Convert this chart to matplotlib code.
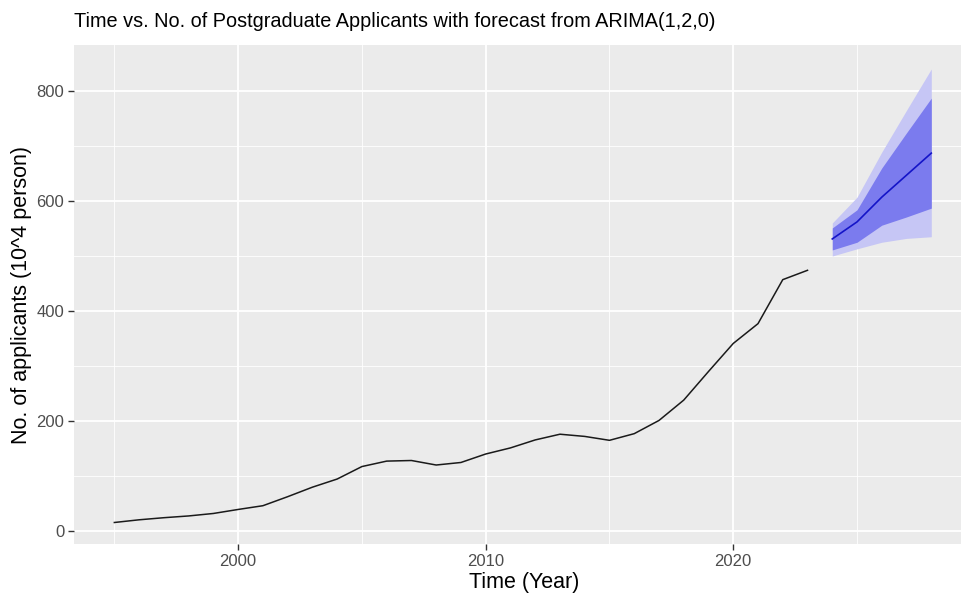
import numpy as np
import matplotlib.pyplot as plt

plt.rcParams['font.family'] = ['Liberation Sans', 'DejaVu Sans']

# observed series (10^4 person)
years = np.arange(1995, 2024)
applicants = [15.5, 20.4, 24.2, 27.4, 31.9, 39.2, 46.0, 62.4, 79.7, 94.5,
              117.2, 127.1, 128.2, 120.0, 124.6, 140.0, 151.1, 165.6, 176.0, 172.0,
              164.9, 177.0, 201.0, 238.0, 290.0, 341.0, 377.0, 457.0, 474.0]

# ARIMA(1,2,0) forecast
fc_years = np.arange(2024, 2029)
fc_mean = [531, 562, 607, 647, 687]
lo80 = [511, 525, 556, 571, 587]
hi80 = [551, 584, 660, 724, 787]
lo95 = [500, 513, 525, 532, 535]
hi95 = [560, 607, 689, 765, 840]

fig = plt.figure(figsize=(9.61, 5.98), dpi=100)
ax = fig.add_axes([74/961, 54/598, 1 - 74/961, 499/598])
ax.set_facecolor('#EBEBEB')

ax.fill_between(fc_years, lo95, hi95, color='#C6C6F5', lw=0, zorder=2)
ax.fill_between(fc_years, lo80, hi80, color='#7B7BEE', lw=0, zorder=3)
ax.plot(fc_years, fc_mean, color='#1414C8', lw=1.2, zorder=4)
ax.plot(years, applicants, color='#1A1A1A', lw=1.1, zorder=4)

ax.set_xlim(1993.37, 2029.2)
ax.set_ylim(-23.6, 883.6)
ax.set_xticks([2000, 2010, 2020])
ax.set_yticks([0, 200, 400, 600, 800])
ax.set_xticks([1995, 2005, 2015, 2025], minor=True)
ax.set_yticks([100, 300, 500, 700], minor=True)
ax.grid(which='major', color='white', lw=1.3, zorder=0)
ax.grid(which='minor', color='white', lw=0.6, zorder=0)
ax.set_axisbelow(True)
for s in ax.spines.values():
    s.set_visible(False)
ax.tick_params(which='major', length=4, width=1, color='#333333',
               labelsize=12, labelcolor='#4D4D4D', pad=3)
ax.tick_params(which='minor', length=0)

ax.set_xlabel('Time (Year)', fontsize=15.5)
ax.xaxis.set_label_coords(0.507, -0.056)
ax.set_ylabel('No. of applicants (10^4 person)', fontsize=15.5, labelpad=3)
ax.set_title('Time vs. No. of Postgraduate Applicants with forecast from ARIMA(1,2,0)',
             fontsize=14.3, loc='left', pad=13)

fig.savefig('out.png', dpi=100)
